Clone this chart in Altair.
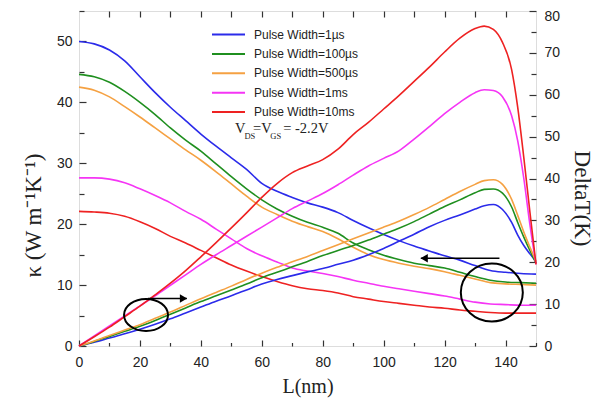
import altair as alt
import pandas as pd

# ---------------- data ----------------
series = ["Pulse Width=1µs", "Pulse Width=100µs", "Pulse Width=500µs",
          "Pulse Width=1ms", "Pulse Width=10ms"]
colors = ["#2b2bea", "#1f8f1f", "#f5a142", "#f535f5", "#ee2222"]

# thermal conductivity (left axis) vs L
L_K = [0, 5, 10, 15, 20, 25, 30, 35, 40, 45, 50, 55, 60, 65, 70, 75, 80, 85, 90,
       95, 100, 105, 110, 115, 120, 125, 130, 135, 140, 145, 150]
K_1us = [50.0, 49.6, 48.6, 46.8, 44.2, 41.6, 39.2, 37.0, 34.8, 32.8, 30.9, 29.0,
         26.7, 25.4, 24.4, 23.5, 22.8, 21.9, 20.6, 19.4, 18.3, 17.3, 16.4, 15.6,
         14.8, 14.1, 13.2, 12.4, 12.1, 11.9, 11.8]
K_100us = [44.6, 44.2, 43.3, 41.8, 40.0, 38.0, 35.8, 33.8, 32.0, 29.9, 27.8, 25.8,
           24.0, 22.5, 21.3, 20.3, 19.5, 18.5, 16.9, 15.8, 14.9, 14.2, 13.6, 13.2,
           12.8, 12.1, 11.4, 10.8, 10.5, 10.4, 10.3]
K_500us = [42.5, 42.0, 40.9, 39.3, 37.6, 35.8, 34.0, 32.2, 30.5, 28.6, 26.6, 24.6,
           22.8, 21.6, 20.5, 19.6, 18.8, 17.6, 16.2, 15.0, 14.2, 13.6, 13.1, 12.7,
           12.2, 11.6, 11.0, 10.4, 10.2, 10.1, 10.0]
K_1ms = [27.6, 27.6, 27.4, 26.8, 25.8, 24.7, 23.5, 22.1, 20.8, 19.2, 17.6, 16.0,
         14.8, 13.8, 12.8, 12.3, 11.9, 11.4, 10.8, 10.3, 9.8, 9.4, 9.0, 8.6, 8.2,
         7.7, 7.2, 6.9, 6.8, 6.7, 6.7]
K_10ms = [22.1, 22.0, 21.8, 21.3, 20.4, 19.3, 18.0, 16.9, 15.7, 14.5, 13.3, 12.3,
          11.4, 10.6, 9.9, 9.4, 9.1, 8.7, 8.1, 7.7, 7.3, 7.0, 6.7, 6.4, 6.2, 5.9,
          5.7, 5.5, 5.4, 5.4, 5.4]

# temperature rise (right axis) vs L
L_T = [0, 5, 10, 15, 20, 25, 30, 35, 40, 45, 50, 55, 60, 65, 70, 75, 80, 85, 90,
       95, 100, 105, 110, 115, 120, 125, 130, 133, 136, 139, 142, 144, 146, 148, 150]
T_1us = [0, 0.9, 1.9, 2.9, 4.0, 5.2, 6.5, 7.9, 9.3, 10.7, 12.0, 13.4, 14.8, 15.9,
         16.8, 17.7, 18.5, 19.5, 20.5, 21.8, 23.3, 25.0, 26.7, 28.5, 30.0, 31.3,
         32.7, 33.5, 33.8, 32.6, 29.5, 26.5, 24.0, 22.0, 20.2]
T_100us = [0, 1.1, 2.3, 3.5, 4.7, 6.1, 7.6, 9.1, 10.6, 12.0, 13.4, 14.8, 16.3, 17.6,
           18.9, 20.2, 21.6, 22.8, 24.0, 25.3, 26.7, 28.1, 29.7, 31.5, 33.3, 34.9,
           36.6, 37.4, 37.5, 36.5, 33.2, 29.5, 26.0, 22.8, 19.8]
T_500us = [0, 1.2, 2.5, 3.8, 5.1, 6.6, 8.1, 9.7, 11.3, 12.8, 14.3, 15.9, 17.4, 18.8,
           20.1, 21.4, 22.8, 24.2, 25.6, 27.0, 28.4, 29.8, 31.4, 33.1, 35.0, 36.9,
           38.6, 39.5, 39.7, 38.6, 35.0, 31.2, 27.2, 23.6, 20.2]
T_1ms = [0, 2.4, 4.8, 7.2, 9.6, 12.0, 14.5, 17.0, 19.5, 21.8, 24.0, 26.2, 28.4, 30.6,
         32.8, 34.6, 36.4, 38.5, 40.8, 43.0, 44.8, 46.6, 49.4, 52.4, 55.5, 58.2,
         60.5, 61.2, 61.0, 59.5, 55.0, 49.0, 40.0, 29.0, 19.5]
T_10ms = [0, 2.2, 4.5, 7.0, 9.5, 12.2, 15.0, 18.0, 21.3, 24.7, 28.2, 31.8, 35.5,
          38.8, 41.4, 43.0, 44.5, 47.0, 50.5, 53.4, 56.6, 59.8, 63.2, 66.6, 70.2,
          73.5, 75.8, 76.4, 75.6, 72.5, 66.0, 57.0, 45.0, 32.0, 19.5]

x_ticks_major = [0, 20, 40, 60, 80, 100, 120, 140]
x_ticks_minor = [10, 30, 50, 70, 90, 110, 130, 150]
x_ticks_top = [10, 20, 30, 40, 50, 60, 70, 80, 90, 100, 110, 120, 130, 140]
yK_ticks = [0, 10, 20, 30, 40, 50]
yK_minor = [5, 15, 25, 35, 45, 55]
yT_ticks = [0, 10, 20, 30, 40, 50, 60, 70, 80]
yT_minor = [5, 15, 25, 35, 45, 55, 65, 75]

# annotations (data coordinates on the L / K axes)
ell_small = pd.DataFrame({"L": [22.0], "v": [5.1]})
ell_big = pd.DataFrame({"L": [135.5], "v": [8.8]})
arrows = pd.DataFrame({"L": [22.6, 138.0], "L2": [35.4, 112.2], "v": [7.8, 14.4]})
head_r = pd.DataFrame({"L": [34.3], "v": [7.8]})
head_l = pd.DataFrame({"L": [113.3], "v": [14.4]})
note = pd.DataFrame({
    "t": ["V", "DS", "=V", "GS", "= -2.2V"],
    "L": [51.2, 54.3, 57.1, 62.8, 67.0],
    "v": [35.6, 34.4, 35.6, 34.4, 35.6],
    "fs": [14.5, 8.5, 14.5, 8.5, 14.5],
})

# ---------------- tables ----------------
rowsK, rowsT = [], []
for s, vals in zip(series, [K_1us, K_100us, K_500us, K_1ms, K_10ms]):
    for l, v in zip(L_K, vals):
        rowsK.append({"L": l, "v": v, "series": s})
for s, vals in zip(series, [T_1us, T_100us, T_500us, T_1ms, T_10ms]):
    for l, v in zip(L_T, vals):
        rowsT.append({"L": l, "v": v, "series": s})
dfK = pd.DataFrame(rowsK)
dfT = pd.DataFrame(rowsT)

W, H = 457, 335
SANS = "Liberation Sans"
SERIF = "Liberation Serif"
AX = "#333333"

xsc = alt.Scale(domain=[0, 150], nice=False, zero=False)
ksc = alt.Scale(domain=[0, 55], nice=False, zero=False)
tsc = alt.Scale(domain=[0, 80], nice=False, zero=False)


def lab_axis(**kw):
    base = dict(ticks=False, tickSize=0, domain=False, grid=False,
                labelFont=SANS, labelFontSize=14, labelColor="#222222",
                labelFlush=False, labelOverlap=False,
                titleFont=SERIF, titleFontWeight="normal", titleColor="#222222",
                titleBaseline="middle")
    base.update(kw)
    return alt.Axis(**base)


def tick_axis(orient, values, size, offset):
    return alt.Axis(orient=orient, values=values, tickSize=size, offset=offset,
                    labels=False, domain=False, grid=False, title=None,
                    tickColor=AX, tickWidth=1.2)


legend = alt.Legend(orient="none", legendX=143, legendY=17, title=None,
                    symbolType="M-3,0H3", symbolSize=121, symbolStrokeWidth=2,
                    labelFont=SANS, labelFontSize=12, labelColor="#222222",
                    labelOffset=19, rowPadding=6.4, padding=0)
color = alt.Color("series:N", scale=alt.Scale(domain=series, range=colors),
                  legend=legend)

k_lines = alt.Chart(dfK).mark_line(strokeWidth=1.6, interpolate="monotone").encode(
    x=alt.X("L:Q", scale=xsc, axis=lab_axis(
        orient="bottom", values=x_ticks_major, labelPadding=9,
        title="L(nm)", titleFontSize=20, titleY=40)),
    y=alt.Y("v:Q", scale=ksc, axis=lab_axis(
        orient="left", values=yK_ticks, labelPadding=7,
        title="κ (W m⁻¹K⁻¹)", titleFontSize=23, titleX=-46, titleY=204,
        titleAngle=-90)),
    color=color,
)

t_lines = alt.Chart(dfT).mark_line(strokeWidth=1.6, interpolate="monotone").encode(
    x=alt.X("L:Q", scale=xsc, axis=None),
    y=alt.Y("v:Q", scale=tsc, axis=lab_axis(
        orient="right", values=yT_ticks, labelPadding=8,
        labelOffset={"condition": {"test": "datum.value == 80", "value": 5},
                     "value": 0},
        title="DeltaT(K)", titleFontSize=23, titleX=45, titleY=187,
        titleAngle=90)),
    color=color,
)

tickC = alt.Chart(dfK).mark_point(opacity=0).encode(
    x=alt.X("L:Q", scale=xsc, axis=tick_axis("bottom", x_ticks_major, 6, -6)),
    y=alt.Y("v:Q", scale=ksc, axis=tick_axis("left", yK_ticks, 7, -7)),
)
tickD = alt.Chart(dfK).mark_point(opacity=0).encode(
    x=alt.X("L:Q", scale=xsc, axis=tick_axis("bottom", x_ticks_minor, 3.5, -3.5)),
    y=alt.Y("v:Q", scale=ksc, axis=tick_axis("left", yK_minor, 5, -5)),
)
tickE = alt.Chart(dfT).mark_point(opacity=0).encode(
    x=alt.X("L:Q", scale=xsc, axis=tick_axis("top", x_ticks_top, 6, -6)),
    y=alt.Y("v:Q", scale=tsc, axis=tick_axis("right", yT_ticks, 7, -7)),
)
tickF = alt.Chart(dfT).mark_point(opacity=0).encode(
    x=alt.X("L:Q", scale=xsc, axis=None),
    y=alt.Y("v:Q", scale=tsc, axis=tick_axis("right", yT_minor, 5, -5)),
)


def ax_enc(ch):
    return ch.encode(x=alt.X("L:Q", scale=xsc, axis=None),
                     y=alt.Y("v:Q", scale=ksc, axis=None))


ELL_S = "M-1,0A1,0.73,0,1,1,1,0A1,0.73,0,1,1,-1,0Z"
ELL_B = "M-1,0A1,0.935,0,1,1,1,0A1,0.935,0,1,1,-1,0Z"
e1 = ax_enc(alt.Chart(ell_small).mark_point(shape=ELL_S, size=1936, filled=False,
                                             stroke="black", strokeWidth=2, opacity=1))
e2 = ax_enc(alt.Chart(ell_big).mark_point(shape=ELL_B, size=3844, filled=False,
                                           stroke="black", strokeWidth=2, opacity=1))
arr = alt.Chart(arrows).mark_rule(color="black", strokeWidth=1.5).encode(
    x=alt.X("L:Q", scale=xsc, axis=None), x2="L2:Q",
    y=alt.Y("v:Q", scale=ksc, axis=None))
h1 = ax_enc(alt.Chart(head_r).mark_point(shape="triangle-right", filled=True,
                                         color="black", size=70, opacity=1))
h2 = ax_enc(alt.Chart(head_l).mark_point(shape="triangle-left", filled=True,
                                         color="black", size=70, opacity=1))
txt = alt.Chart(note).mark_text(align="left", baseline="middle", font=SERIF,
                                color="#222222").encode(
    x=alt.X("L:Q", scale=xsc, axis=None),
    y=alt.Y("v:Q", scale=ksc, axis=None),
    text="t:N",
    size=alt.Size("fs:Q", scale=None, legend=None),
)

chart = alt.layer(k_lines, t_lines, tickC, tickD, tickE, tickF,
                  e1, e2, arr, h1, h2, txt).resolve_scale(
    x="independent", y="independent", size="independent"
).resolve_axis(x="independent", y="independent").properties(
    width=W, height=H,
    autosize=alt.AutoSizeParams(type="none"),
    padding={"left": 71, "top": 3, "right": 59, "bottom": 56},
).configure_view(stroke=AX, strokeWidth=1.5).configure(background="white")

chart.save("out.html", embed_options={"renderer": "svg", "actions": False})
